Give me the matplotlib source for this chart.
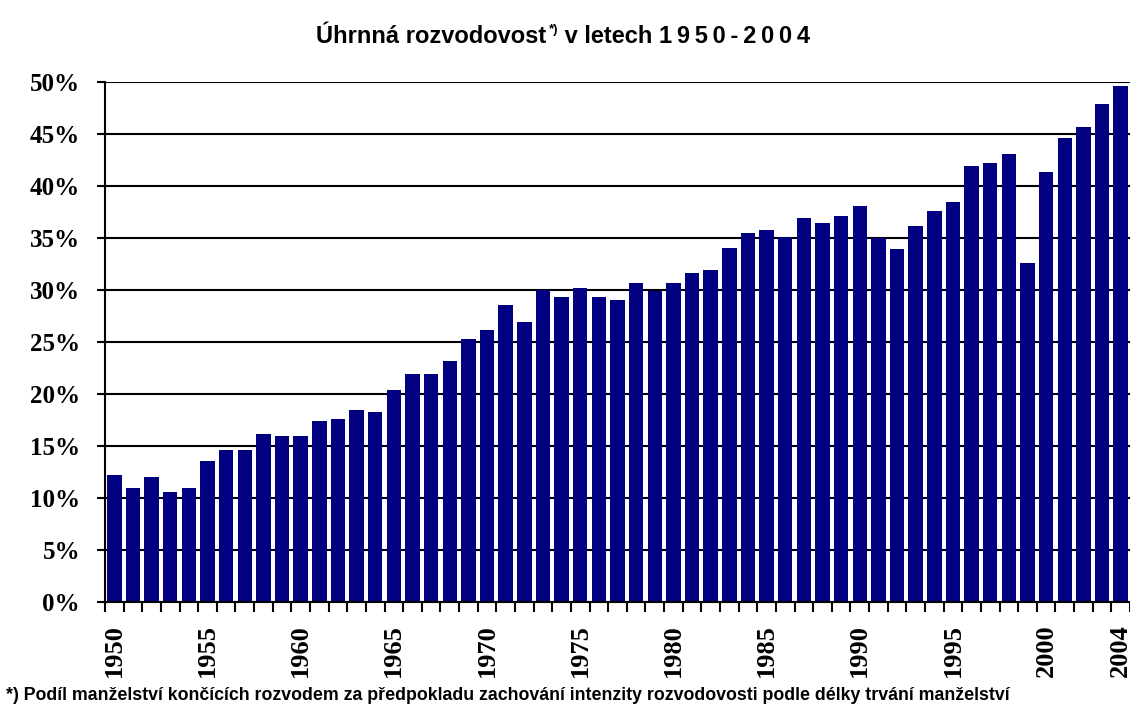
import matplotlib
matplotlib.use("Agg")
import matplotlib.pyplot as plt
from matplotlib.ticker import FuncFormatter, FixedLocator


# Data (percent)
years = list(range(1950, 2005))
divorce_rate = [
    12.2, 11.0, 12.0, 10.6, 11.0, 13.6, 14.6, 14.6, 16.2, 16.0,
    16.0, 17.4, 17.6, 18.5, 18.3, 20.4, 21.9, 21.9, 23.2, 25.3,
    26.2, 28.6, 26.9, 30.0, 29.3, 30.2, 29.3, 29.0, 30.7, 29.9,
    30.7, 31.6, 31.9, 34.0, 35.5, 35.8, 35.1, 36.9, 36.4, 37.1,
    38.1, 35.0, 33.9, 36.2, 37.6, 38.5, 41.9, 42.2, 43.1, 32.6,
    41.3, 44.6, 45.7, 47.9, 49.6,
]
labeled_years = [1950, 1955, 1960, 1965, 1970, 1975, 1980, 1985, 1990,
                 1995, 2000, 2004]
y_ticks = [0, 5, 10, 15, 20, 25, 30, 35, 40, 45, 50]

title_main = "Úhrnná rozvodovost"
title_sup = "*)"
# the year span in the original is drawn with wide letter spacing
title_rest = " v letech " + "\u2009".join("1950-2004")
footnote = ("*) Podíl manželství končících rozvodem za předpokladu zachování "
            "intenzity rozvodovosti podle délky trvání manželství")

BAR_COLOR = "#000080"
SERIF = ["Liberation Serif", "DejaVu Serif"]
SANS = ["Liberation Sans", "DejaVu Sans"]


def draw_chart():
    '''Draws the bar chart with the Excel-like look of the reference.'''

    fig = plt.figure(figsize=(11.3, 7.04), dpi=100)
    ax = fig.add_axes([105 / 1130, 1 - 602 / 704, 1025 / 1130, 520 / 704])

    pos = list(range(len(years)))
    ax.bar(pos, divorce_rate, width=0.78, color=BAR_COLOR, zorder=3)

    # Axis limits and gridlines
    ax.set_xlim(-0.5, len(years) - 0.5)
    ax.set_ylim(0, 50)
    ax.set_yticks(y_ticks)
    ax.yaxis.set_major_formatter(FuncFormatter(lambda v, _: f"{v:.0f}%"))
    ax.grid(axis="y", color="black", linewidth=1.5, zorder=0)
    ax.set_axisbelow(True)

    # Category labels every five years, tick marks between categories
    ax.set_xticks([years.index(y) for y in labeled_years])
    ax.set_xticklabels([str(y) for y in labeled_years], rotation=90)
    ax.xaxis.set_minor_locator(FixedLocator([p - 0.5 for p in pos + [len(pos)]]))
    ax.tick_params(axis="x", which="major", length=0, pad=16)
    ax.tick_params(axis="x", which="minor", length=7, width=1.5,
                   color="black")
    ax.tick_params(axis="y", length=6, width=1.5, pad=12)

    for lab in ax.get_xticklabels():
        lab.set_family(SERIF)
        lab.set_fontweight("bold")
        lab.set_fontsize(19)
    for lab in ax.get_yticklabels():
        lab.set_family(SERIF)
        lab.set_fontweight("bold")
        lab.set_fontsize(18)

    for side in ("top", "right"):
        ax.spines[side].set_visible(False)
    for side in ("left", "bottom"):
        ax.spines[side].set_linewidth(1.5)
        ax.spines[side].set_zorder(4)

    # Title with the footnote mark as a superscript
    t1 = fig.text(546 / 1130, 1 - 43 / 704, title_main, ha="right",
                  va="baseline", fontsize=17, fontweight="bold", family=SANS)
    sup = ax.annotate(title_sup, xy=(1, 1), xycoords=t1, xytext=(2, 1),
                      textcoords="offset points", ha="left", va="top",
                      fontsize=9.5, fontweight="bold", family=SANS,
                      annotation_clip=False)
    ax.annotate(title_rest, xy=(1, 0), xycoords=(sup, t1), ha="left",
                va="bottom", fontsize=17, fontweight="bold", family=SANS,
                annotation_clip=False)

    fig.text(6 / 1130, 1 - 700 / 704, footnote, ha="left", va="baseline",
             fontsize=12.8, fontweight="bold", family=SANS)

    fig.savefig("out.png", dpi=100)


def main():
    '''Main Driver Function'''

    try:
        draw_chart()
    except Exception as e:
        print(f"{type(e).__name__}: {e}")


if __name__ == "__main__":
    main()
